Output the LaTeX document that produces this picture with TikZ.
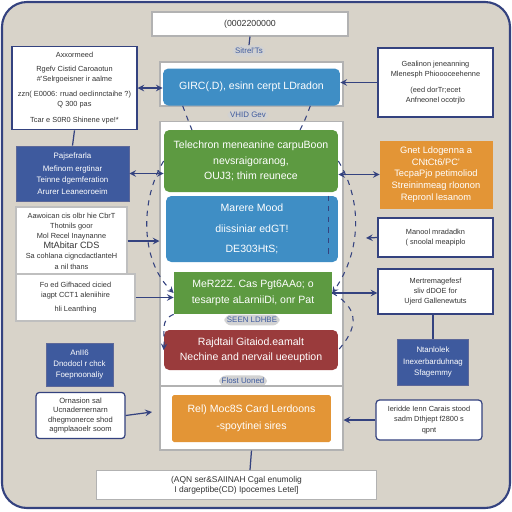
\documentclass[tikz,border=0pt]{standalone}
\usepackage{fontspec}
\setmainfont{Liberation Sans}
\definecolor{bgtan}{HTML}{D8D3C9}
\definecolor{navy}{HTML}{3E5A9E}
\definecolor{edge}{HTML}{34427F}
\definecolor{boxblue}{HTML}{3F8EC5}
\definecolor{boxgreen}{HTML}{5D9A41}
\definecolor{boxred}{HTML}{9A3B3C}
\definecolor{boxorange}{HTML}{E39536}
\definecolor{inktext}{HTML}{333333}
\tikzset{
  panel/.style={draw=gray!60, fill=white, line width=0.6pt},
  mainbox/.style={rounded corners=3pt, text=white, align=center, font=\fontsize{6}{8.5}\selectfont},
  sidebox/.style={draw=edge, line width=0.7pt, fill=white, text=inktext, align=center, font=\fontsize{4.2}{5.8}\selectfont},
  navybox/.style={fill=navy, draw=edge!80, text=white, align=center, font=\fontsize{4.5}{6.4}\selectfont},
  pill/.style={fill=gray!35, rounded corners=4pt, text=navy, inner sep=1.5pt, font=\fontsize{4.5}{5}\selectfont},
  link/.style={edge, line width=0.7pt},
  dashlink/.style={edge, line width=0.6pt, dashed},
}
\begin{document}
\begin{tikzpicture}[x=0.02cm, y=-0.02cm, >=stealth]
\useasboundingbox (0,0) rectangle (512,512);
\draw[edge, line width=1.2pt, fill=bgtan, rounded corners=0.5cm] (2,2) rectangle (510,508);

% central column
\node[panel, minimum width=3.92cm, minimum height=0.48cm, font=\fontsize{5}{6}\selectfont, text=inktext] (title) at (250,24) {(0002200000};
\node[pill] (tagA) at (249,51) {Sitrel'Ts};
\node[panel, minimum width=3.66cm, minimum height=0.88cm] (panA) at (251.5,84) {};
\node[mainbox, fill=boxblue, minimum width=3.54cm, minimum height=0.74cm] (blueA) at (251.5,87) {GIRC(.D), esinn cerpt LDradon};
\node[panel, minimum width=3.66cm, minimum height=5.3cm] (panB) at (251.5,253.5) {};
\node[pill] (tagB) at (248,115) {VHID Gev};
\node[mainbox, fill=boxgreen, minimum width=3.48cm, minimum height=1.24cm, font=\fontsize{6}{9}\selectfont] (greenA) at (251,161) {Telechron meneanine carpuBoon\\nevsraigoranog,\\OUJ3; thim reunece};
\node[mainbox, fill=boxblue, minimum width=3.44cm, minimum height=1.32cm] (blueB) at (252,229) {Marere Mood\\[3pt]diissiniar edGT!\\[3pt]DE303HtS;};
\node[mainbox, fill=boxgreen, minimum width=3.16cm, minimum height=0.84cm, rounded corners=0pt, font=\fontsize{6}{9}\selectfont] (greenB) at (253,293) {MeR22Z. Cas Pgt6AAo; o\\tesarpte aLarniiDi, onr Pat};
\node[pill] (tagC) at (252,320) {SEEN LDHBE};
\node[mainbox, fill=boxred, minimum width=3.48cm, minimum height=0.8cm] (redA) at (251,350) {Rajdtail Gitaiod.eamalt\\Nechine and nervail ueeuption};
\node[pill] (tagD) at (243,381) {Flost Uoned};
\node[panel, minimum width=3.66cm, minimum height=1.28cm] (panC) at (251.5,418) {};
\node[mainbox, fill=boxorange, minimum width=3.18cm, minimum height=0.94cm, rounded corners=1pt, font=\fontsize{6}{9.5}\selectfont] (orangeA) at (251.5,418.5) {Rel) Moc8S Card Lerdoons\\-spoytinei sires};
\node[panel, minimum width=5.62cm, minimum height=0.48cm, align=center, text=inktext, font=\fontsize{4.8}{5.8}\selectfont] (foot) at (236.5,485) {(AQN ser\&SAIINAH Cgal enumolig\\I dargeptibe(CD) Ipocemes Letel]};

% left column
\node[sidebox, minimum width=2.42cm, minimum height=1.64cm] (leftA) at (74.5,88) {Axxormeed\\[2pt]Rgefv Cistid Caroaotun\\\#'Selrgoeisner ir aalme\\[3pt]zzn( E0006: rruad oeclinnctaihe ?)\\Q 300 pas\\[3pt]Tcar e S0R0 Shinene vpe!*};
\node[navybox, minimum width=2.26cm, minimum height=1.1cm] (leftB) at (72.5,173.5) {Pajsefrarla\\[1pt]Mefinom ergtinar\\Teinne dgemferation\\Arurer Leaneoroeim};
\node[sidebox, draw=gray!50, minimum width=2.22cm, minimum height=1.28cm] (leftC) at (71.5,241) {Aawoican cis olbr hie CbrT\\Thotnils goor\\Mol Recel Inaynanne\\{\fontsize{5.2}{6}\selectfont MtAbitar CDS}\\Sa cohlana cigncdactlanteH\\a nil thans};
\node[sidebox, draw=gray!50, minimum width=2.38cm, minimum height=0.94cm] (leftD) at (75.5,297.5) {Fo ed Gifhaced cicied\\iagpt CCT1 aleniihire\\[2pt]hli Leanthing};
\node[navybox, minimum width=1.34cm, minimum height=0.86cm] (leftE) at (79.5,364.5) {AnII6\\Dnodocl r chck\\Foepnoonaliy};
\node[sidebox, rounded corners=2pt, minimum width=1.78cm, minimum height=0.74cm, font=\fontsize{4.3}{5.2}\selectfont] (leftF) at (80.5,415.5) {Ornasion sal\\Ucnadernernarn\\dhegmonerce shod\\agmplaaoelr soom};

% right column
\node[sidebox, minimum width=2.3cm, minimum height=1.38cm] (rightA) at (435.5,82.5) {Gealinon jeneanning\\Mlenesph Phioooceehenne\\[3pt](eed dorTr;ecet\\Anfneonel ocotrjlo};
\node[navybox, fill=boxorange, draw=boxorange, minimum width=2.24cm, minimum height=1.34cm, font=\fontsize{5.3}{6.6}\selectfont] (rightB) at (436,174.5) {Gnet Ldogenna a\\CNtCt6/PC'\\TecpaPjo petimoliod\\Streininmeag rloonon\\Repronl lesanom};
\node[sidebox, minimum width=2.3cm, minimum height=0.78cm] (rightC) at (435.5,237.5) {Manool mradadkn\\( snoolal meapiplo};
\node[sidebox, minimum width=2.3cm, minimum height=0.9cm] (rightD) at (435.5,291.5) {Mertremagefesf\\sliv dDOE for\\Ujerd Gallenewtuts};
\node[navybox, minimum width=1.32cm, minimum height=0.92cm] (rightE) at (433,362) {Ntanlolek\\Inexerbarduhnag\\Sfagemmy};
\node[sidebox, rounded corners=2pt, minimum width=2.12cm, minimum height=0.8cm] (rightF) at (429,420) {Ieridde Ienn Carais stood\\sadm Dthjept f2800 s\\qpnt};

% free ends
\coordinate (leftFend) at (152,412);
\coordinate (footTop) at (250,470);
\coordinate (rightCend) at (366,238);

% connectors
\foreach \from/\to in {leftA/blueA, leftB/greenA}
    \draw[link, <->] (\from.east) -- (\from.east -| \to.west);
\foreach \from/\to in {rightB/greenA}
    \draw[link, <->] (\from.west) -- (\from.west -| \to.east);
\foreach \from/\to in {rightA/blueA, rightF/panC}
    \draw[link, ->] (\from.west) -- (\from.west -| \to.east);
\draw[link, ->] (leftD.east) -- (leftD.east -| greenB.west);
\draw[link, ->] (greenB.east) -- (greenB.east -| rightD.west);
\draw[link, ->] (leftF.east) -- (leftFend);
\draw[link, ->] (leftC.east) -- (leftC.east -| panB.west);
\draw[link, ->] (rightC.west) -- (rightCend);
\draw[link] (leftA.south) -- (leftB.north);
\draw[link] (panC.south) -- (footTop);
\draw[link] (title.south) -- (tagA.north);
\draw[link] (rightD.south -| rightE.north) -- (rightE.north);

% dashed loops
\draw[dashlink, ->] (greenA.west) .. controls (140,200) and (140,260) .. (greenB.west);
\draw[dashlink, ->] (greenB.south west) .. controls (160,320) and (165,330) .. (redA.west);
\draw[dashlink, ->] (greenA.east) .. controls (362,200) and (362,250) .. (greenB.east);
\draw[dashlink] (greenB.east) .. controls (362,310) and (356,330) .. (redA.east);
\draw[dashlink] (blueA.south west) ++(20,0) .. controls (188,120) .. (192,130);
\draw[dashlink] (blueA.south east) ++(-30,0) .. controls (305,120) .. (300,130);
\draw[dashlink] (blueB.north east) ++(-10,0) -- ++(0,58);
\end{tikzpicture}
\end{document}
